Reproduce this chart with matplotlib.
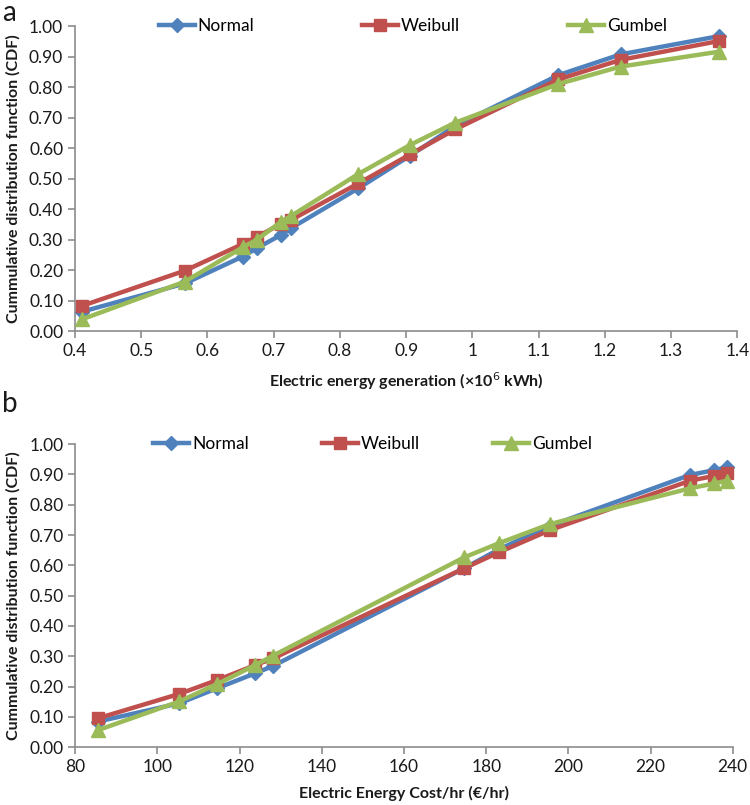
import matplotlib
matplotlib.use("Agg")
import matplotlib.pyplot as plt
from matplotlib.ticker import FuncFormatter, MultipleLocator

plt.rcParams['font.family'] = ['Lato', 'DejaVu Sans']

# ---- Data: panel a (electric energy generation, x10^6 kWh) ----
gen_x = [0.41, 0.566, 0.653, 0.675, 0.711, 0.726, 0.828, 0.906, 0.974, 1.13, 1.224, 1.373]
gen_normal = [0.063, 0.156, 0.244, 0.272, 0.315, 0.337, 0.468, 0.575, 0.672, 0.839, 0.907, 0.967]
gen_weibull = [0.082, 0.198, 0.285, 0.309, 0.351, 0.364, 0.484, 0.579, 0.661, 0.825, 0.889, 0.951]
gen_gumbel = [0.038, 0.162, 0.274, 0.300, 0.358, 0.377, 0.515, 0.610, 0.683, 0.810, 0.867, 0.916]

# ---- Data: panel b (electric energy cost/hr, EUR/hr) ----
cost_x = [85.6, 105.3, 114.6, 123.8, 128.1, 174.6, 183.1, 195.5, 229.6, 235.5, 238.5]
cost_normal = [0.085, 0.145, 0.195, 0.244, 0.268, 0.590, 0.653, 0.730, 0.898, 0.914, 0.923]
cost_weibull = [0.096, 0.176, 0.222, 0.271, 0.293, 0.590, 0.643, 0.716, 0.879, 0.895, 0.903]
cost_gumbel = [0.057, 0.151, 0.209, 0.271, 0.302, 0.626, 0.673, 0.736, 0.854, 0.870, 0.879]

series_names = ['Normal', 'Weibull', 'Gumbel']
colors = ['#4F81BD', '#C0504D', '#9BBB59']
markers = ['D', 's', '^']
msizes = [7, 9, 9.5]

fig = plt.figure(figsize=(7.5, 8.05), dpi=100)
ax1 = fig.add_axes([0.100, 0.5888, 0.883, 0.3789])
ax2 = fig.add_axes([0.1004, 0.0717, 0.8766, 0.3767])

spine_col = '#8c8c8c'
txt_col = '#1a1a1a'


def style(ax):
    for s in ['top', 'right']:
        ax.spines[s].set_visible(False)
    for s in ['left', 'bottom']:
        ax.spines[s].set_color(spine_col)
        ax.spines[s].set_linewidth(1.2)
    ax.tick_params(axis='both', colors=spine_col, labelcolor=txt_col,
                   labelsize=12.5, length=5, width=1.2, direction='out')
    ax.set_ylim(0, 1.0)
    ax.yaxis.set_major_locator(MultipleLocator(0.1))
    ax.yaxis.set_major_formatter(FuncFormatter(lambda v, p: f'{v:.2f}'))
    ax.set_ylabel('Cummulative distribution function (CDF)', fontsize=11.5,
                  fontweight='bold', color=txt_col, labelpad=6)


def draw(ax, x, ys):
    handles = []
    for y, name, c, m, ms in zip(ys, series_names, colors, markers, msizes):
        h, = ax.plot(x, y, color=c, lw=3.2, marker=m, ms=ms, label=name,
                     clip_on=False, zorder=3)
        handles.append(h)
    return handles


# Panel a
draw(ax1, gen_x, [gen_normal, gen_weibull, gen_gumbel])
style(ax1)
ax1.set_xlim(0.4, 1.4)
ax1.xaxis.set_major_locator(MultipleLocator(0.1))
ax1.xaxis.set_major_formatter(FuncFormatter(lambda v, p: f'{round(v, 1):g}'))
ax1.set_xlabel('Electric energy generation (×10$^{6}$ kWh)', fontsize=11.5,
               fontweight='bold', color=txt_col, labelpad=8)
ax1.legend(loc='center', bbox_to_anchor=(0.51, 1.0), ncol=3, frameon=False,
           fontsize=12.5, handlelength=2.1, handletextpad=0.15,
           columnspacing=6.2, borderaxespad=0)

# Panel b
draw(ax2, cost_x, [cost_normal, cost_weibull, cost_gumbel])
style(ax2)
ax2.set_xlim(80, 240)
ax2.xaxis.set_major_locator(MultipleLocator(20))
ax2.xaxis.set_major_formatter(FuncFormatter(lambda v, p: f'{v:g}'))
ax2.set_xlabel('Electric Energy Cost/hr (€/hr)', fontsize=11.5,
               fontweight='bold', color=txt_col, labelpad=8)
ax2.legend(loc='center', bbox_to_anchor=(0.452, 1.0), ncol=3, frameon=False,
           fontsize=12.5, handlelength=2.1, handletextpad=0.15,
           columnspacing=4.2, borderaxespad=0)

fig.text(0.003, 1.0, 'a', fontsize=20, va='top', ha='left', color=txt_col)
fig.text(0.003, 0.514, 'b', fontsize=20, va='top', ha='left', color=txt_col)

fig.savefig('out.png', dpi=100)
